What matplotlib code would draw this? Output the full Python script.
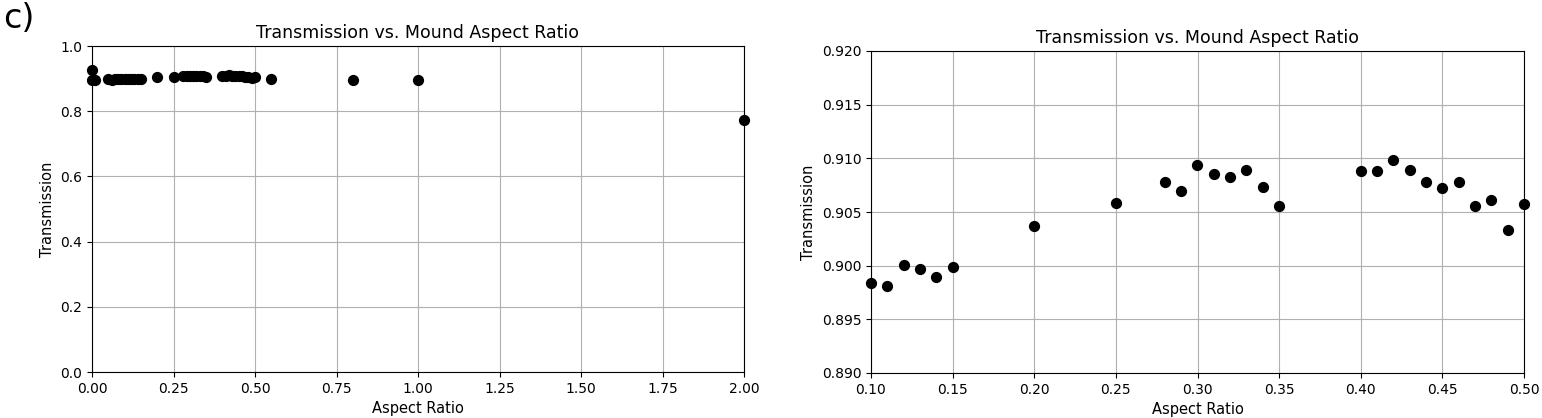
import numpy as np
import matplotlib.pyplot as plt

# full sweep (left panel)
ar_full = [0.0, 0.0, 0.01, 0.05, 0.06, 0.07, 0.08, 0.09,
           0.10, 0.11, 0.12, 0.13, 0.14, 0.15, 0.20, 0.25,
           0.28, 0.29, 0.30, 0.31, 0.32, 0.33, 0.34, 0.35,
           0.40, 0.41, 0.42, 0.43, 0.44, 0.45, 0.46, 0.47, 0.48, 0.49, 0.50,
           0.55, 0.80, 1.00, 2.00]
tr_full = [0.9260, 0.8960, 0.8960, 0.8975, 0.8970, 0.8980, 0.8978, 0.8982,
           0.8984, 0.8981, 0.9001, 0.8997, 0.8989, 0.8999, 0.9037, 0.9058,
           0.9078, 0.9070, 0.9094, 0.9085, 0.9083, 0.9089, 0.9073, 0.9056,
           0.9088, 0.9088, 0.9098, 0.9089, 0.9078, 0.9072, 0.9078, 0.9056, 0.9061, 0.9033, 0.9057,
           0.8990, 0.8960, 0.8957, 0.7730]

# zoomed range (right panel)
ar_zoom = [0.10, 0.11, 0.12, 0.13, 0.14, 0.15, 0.20, 0.25,
           0.28, 0.29, 0.30, 0.31, 0.32, 0.33, 0.34, 0.35,
           0.40, 0.41, 0.42, 0.43, 0.44, 0.45, 0.46, 0.47, 0.48, 0.49, 0.50]
tr_zoom = [0.8984, 0.8981, 0.9001, 0.8997, 0.8989, 0.8999, 0.9037, 0.9058,
           0.9078, 0.9070, 0.9094, 0.9085, 0.9083, 0.9089, 0.9073, 0.9056,
           0.9088, 0.9088, 0.9098, 0.9089, 0.9078, 0.9072, 0.9078, 0.9056, 0.9061, 0.9033, 0.9057]

fig = plt.figure(figsize=(15.42, 4.18), dpi=100)
ax1 = fig.add_axes([92/1542, 1 - 372/418, (744-92)/1542, (372-46)/418])
ax2 = fig.add_axes([871/1542, 1 - 373/418, (1524-871)/1542, (373-51)/418])

ax1.scatter(ar_full, tr_full, color='black', s=50, zorder=3, clip_on=False)
ax1.set_xlim(0, 2)
ax1.set_ylim(0, 1)
ax1.set_xticks(np.arange(0, 2.01, 0.25))
ax1.set_yticks(np.arange(0, 1.01, 0.2))
ax1.set_title('Transmission vs. Mound Aspect Ratio', fontsize=12.5)
ax1.set_xlabel('Aspect Ratio', fontsize=10.5)
ax1.set_ylabel('Transmission', fontsize=10.5)
ax1.grid(True, color='#b0b0b0')
ax1.set_axisbelow(True)

ax2.scatter(ar_zoom, tr_zoom, color='black', s=50, zorder=3, clip_on=False)
ax2.set_xlim(0.1, 0.5)
ax2.set_ylim(0.89, 0.92)
ax2.set_xticks(np.arange(0.1, 0.501, 0.05))
ax2.set_yticks(np.arange(0.89, 0.9201, 0.005))
ax2.yaxis.set_major_formatter(plt.FormatStrFormatter('%.3f'))
ax2.set_title('Transmission vs. Mound Aspect Ratio', fontsize=12.5)
ax2.set_xlabel('Aspect Ratio', fontsize=10.5)
ax2.set_ylabel('Transmission', fontsize=10.5)
ax2.grid(True, color='#b0b0b0')
ax2.set_axisbelow(True)

for ax in (ax1, ax2):
    ax.tick_params(labelsize=10)

fig.text(0.002, 0.995, 'c)', fontsize=24, va='top', ha='left')

fig.savefig('out.png', dpi=100)
